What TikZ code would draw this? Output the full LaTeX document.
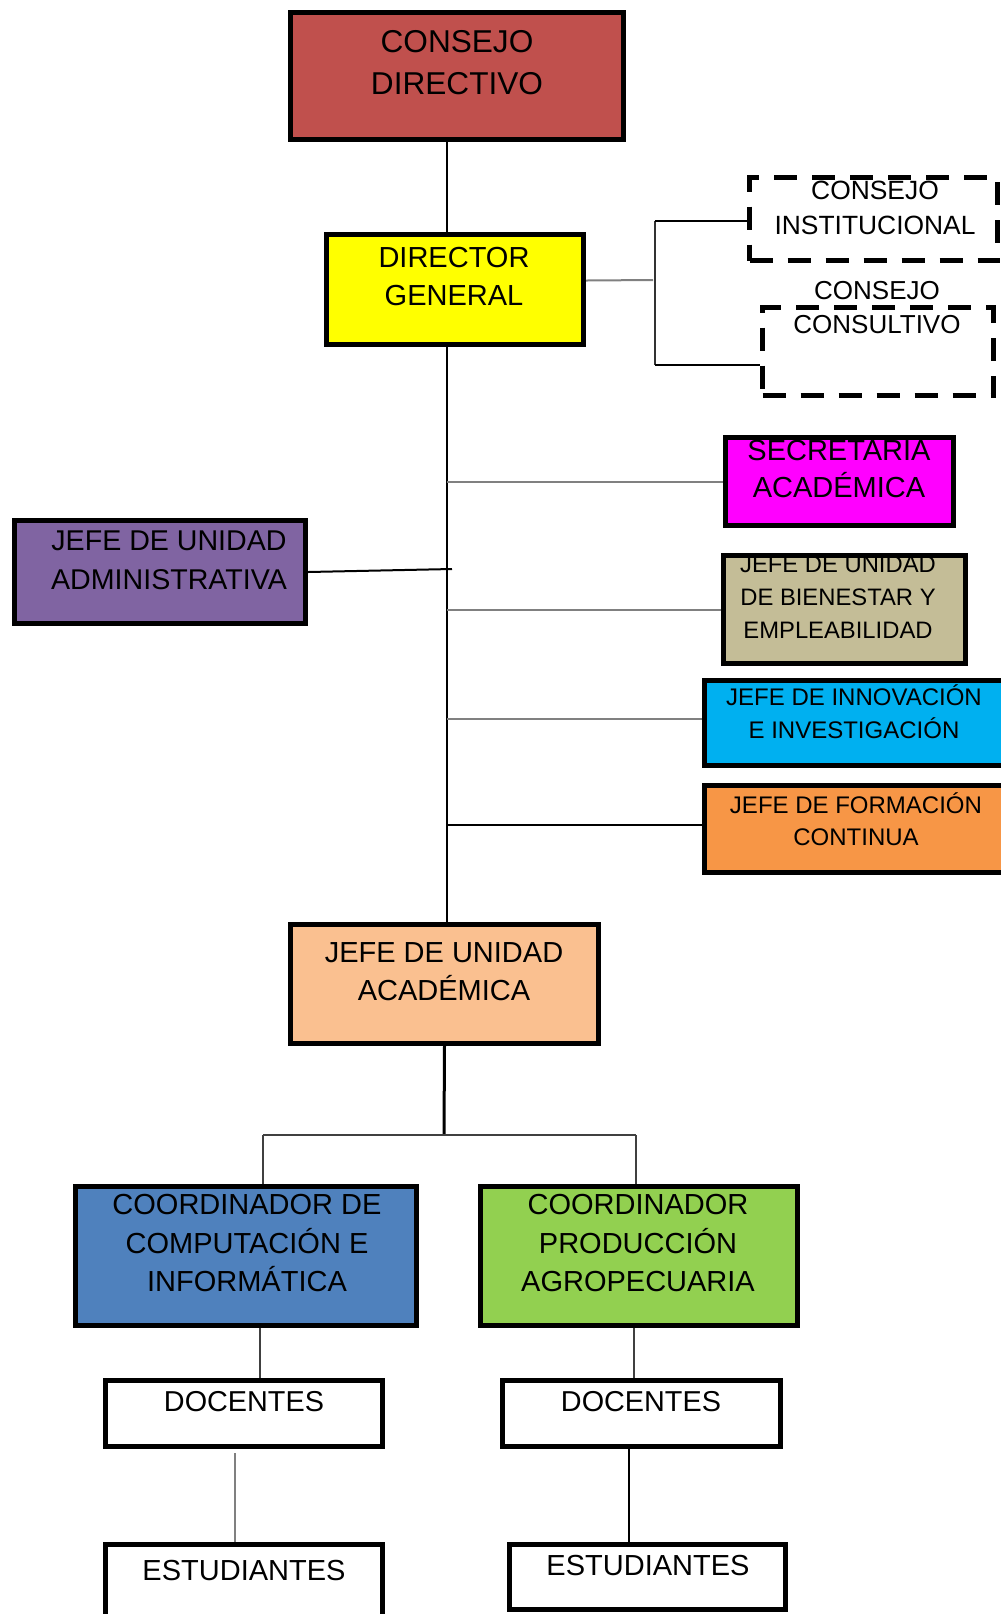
\documentclass[tikz,border=0pt]{standalone}
\usepackage{fontspec}
\setmainfont{Liberation Sans}
\usepackage{tikz}

\definecolor{RojoCD}{HTML}{C0504D}
\definecolor{AmarilloDG}{HTML}{FFFF00}
\definecolor{MagentaSA}{HTML}{FF00FF}
\definecolor{TanJB}{HTML}{C4BD97}
\definecolor{CelesteJI}{HTML}{00B0F0}
\definecolor{NaranjaJF}{HTML}{F79646}
\definecolor{MoradoJA}{HTML}{8064A2}
\definecolor{SalmonJUA}{HTML}{FAC090}
\definecolor{AzulCCI}{HTML}{4F81BD}
\definecolor{VerdeCPA}{HTML}{92D050}

\begin{document}
\begin{tikzpicture}[x=0.5pt,y=-0.5pt,inner sep=0pt,
  box/.style={rectangle,draw=black,line width=2.5pt},
  dashbox/.style={rectangle,draw=black,line width=2.4pt,dash pattern=on 11.5pt off 7.5pt},
  boxtext/.style={align=center,text=black},
  link/.style={draw=black,line width=1.3pt},
  graylink/.style={draw=gray,line width=1pt}]
\useasboundingbox (0,0) rectangle (1001,1614);
\clip (0,0) rectangle (1001,1614);

%Boxes
\node at (457,76) [box,fill=RojoCD,minimum width=166.5pt,minimum height=63.5pt] (cd) {};
\node at (455,289.5) [box,fill=AmarilloDG,minimum width=128.5pt,minimum height=55pt] (dg) {};
\node at (873.5,219) [dashbox,minimum width=124pt,minimum height=41.5pt] (ci) {};
\node at (878,351.5) [dashbox,minimum width=115.5pt,minimum height=44pt] (cc) {};
\node at (839.5,481.5) [box,fill=MagentaSA,minimum width=114pt,minimum height=44pt] (sa) {};
\node at (844.5,609.5) [box,fill=TanJB,minimum width=121pt,minimum height=54pt] (jb) {};
\node at (854,723) [box,fill=CelesteJI,minimum width=149.5pt,minimum height=42.5pt] (ji) {};
\node at (856,829) [box,fill=NaranjaJF,minimum width=151.5pt,minimum height=43.5pt] (jf) {};
\node at (160,572) [box,fill=MoradoJA,minimum width=145.5pt,minimum height=51.5pt] (ja) {};
\node at (444.5,984) [box,fill=SalmonJUA,minimum width=154pt,minimum height=59.5pt] (jua) {};
\node at (246,1256) [box,fill=AzulCCI,minimum width=170.5pt,minimum height=69.5pt] (cci) {};
\node at (639,1256) [box,fill=VerdeCPA,minimum width=158.5pt,minimum height=69.5pt] (cpa) {};
\node at (244,1413.5) [box,fill=white,minimum width=138.5pt,minimum height=33pt] (doc1) {};
\node at (641.5,1413.5) [box,fill=white,minimum width=139pt,minimum height=33pt] (doc2) {};
\node at (244,1583.5) [box,fill=white,minimum width=138.5pt,minimum height=39pt] (est1) {};
\node at (647.5,1577) [box,fill=white,minimum width=138pt,minimum height=32.5pt] (est2) {};

%Box Labels
\node at (457,63) [boxtext,font=\fontsize{15.8}{21}\selectfont] {CONSEJO\\DIRECTIVO};
\node at (454,277) [boxtext,font=\fontsize{14.5}{19}\selectfont] {DIRECTOR\\GENERAL};
\node at (875,208) [boxtext,font=\fontsize{13.2}{17.5}\selectfont] {CONSEJO\\INSTITUCIONAL};
\node at (877,308) [boxtext,font=\fontsize{13}{17}\selectfont] {CONSEJO\\CONSULTIVO};
\node at (839,469) [boxtext,font=\fontsize{14.5}{18.5}\selectfont] {SECRETARIA\\ACADÉMICA};
\node at (838,597) [boxtext,font=\fontsize{11.9}{16.5}\selectfont] {JEFE DE UNIDAD\\DE BIENESTAR Y\\EMPLEABILIDAD};
\node at (854,712) [boxtext,font=\fontsize{12}{16.5}\selectfont] {JEFE DE INNOVACIÓN\\E INVESTIGACIÓN};
\node at (856,819) [boxtext,font=\fontsize{12}{16}\selectfont] {JEFE DE FORMACIÓN\\CONTINUA};
\node at (169,560) [boxtext,font=\fontsize{14.3}{19.5}\selectfont] {JEFE DE UNIDAD\\ADMINISTRATIVA};
\node at (444,972) [boxtext,font=\fontsize{14.5}{19}\selectfont] {JEFE DE UNIDAD\\ACADÉMICA};
\node at (247,1243) [boxtext,font=\fontsize{14.5}{19.3}\selectfont] {COORDINADOR DE\\COMPUTACIÓN E\\INFORMÁTICA};
\node at (638,1243) [boxtext,font=\fontsize{14.5}{19.3}\selectfont] {COORDINADOR\\PRODUCCIÓN\\AGROPECUARIA};
\node at (244,1402) [boxtext,font=\fontsize{14.4}{19}\selectfont] {DOCENTES};
\node at (641,1402) [boxtext,font=\fontsize{14.4}{19}\selectfont] {DOCENTES};
\node at (244,1570) [boxtext,font=\fontsize{14.5}{19}\selectfont] {ESTUDIANTES};
\node at (648,1565) [boxtext,font=\fontsize{14.5}{19}\selectfont] {ESTUDIANTES};

%Junction Points
\coordinate (sp) at (447,0);
\coordinate (dgEnd) at (653,280);
\coordinate (brkT) at (655,221);
\coordinate (brkB) at (655,365);
\coordinate (jaEnd) at (452,569);
\coordinate (jua0) at (444,1135);
\coordinate (rowL) at (263,1135);
\coordinate (rowR) at (636,1135);

%Connections
\draw [link] (cd.south -| sp) -- (dg.north -| sp);
\draw [link] (dg.south -| sp) -- (jua.north -| sp);
\draw [graylink] ([yshift=4.5pt]dg.east) -- (dgEnd);
\draw [draw=black!80,line width=0.6pt] (brkT) -- (brkB);
\draw [link,line width=1.4pt] (brkT) -- (ci.west |- brkT);
\draw [link,line width=1.4pt] (brkB) -- (cc.west |- brkB);
\draw [graylink] (sa.west -| sp) -- (sa.west);
\draw [link,line width=1pt] (ja.east) -- (jaEnd);
\draw [graylink] (jb.west -| sp) -- (jb.west);
\draw [graylink] ([yshift=2pt]ji.west -| sp) -- ([yshift=2pt]ji.west);
\draw [link] ([yshift=2pt]jf.west -| sp) -- ([yshift=2pt]jf.west);
\draw [link,line width=1.5pt] (jua.south) -- (jua0);
\draw [draw=black!75,line width=0.8pt] (rowL) -- (rowR);
\draw [draw=black!75,line width=0.8pt] (rowL) -- (cci.north -| rowL);
\draw [draw=black!75,line width=0.8pt] (rowR) -- (cpa.north -| rowR);
\draw [draw=black!75,line width=0.8pt] (cci.south -| 260,0) -- (doc1.north -| 260,0);
\draw [draw=black!75,line width=0.8pt] (cpa.south -| 634,0) -- (doc2.north -| 634,0);
\draw [draw=gray,line width=0.7pt] ([yshift=-2pt]doc1.south -| 235,0) -- (est1.north -| 235,0);
\draw [link] (doc2.south -| 629,0) -- (est2.north -| 629,0);
\end{tikzpicture}
\end{document}
